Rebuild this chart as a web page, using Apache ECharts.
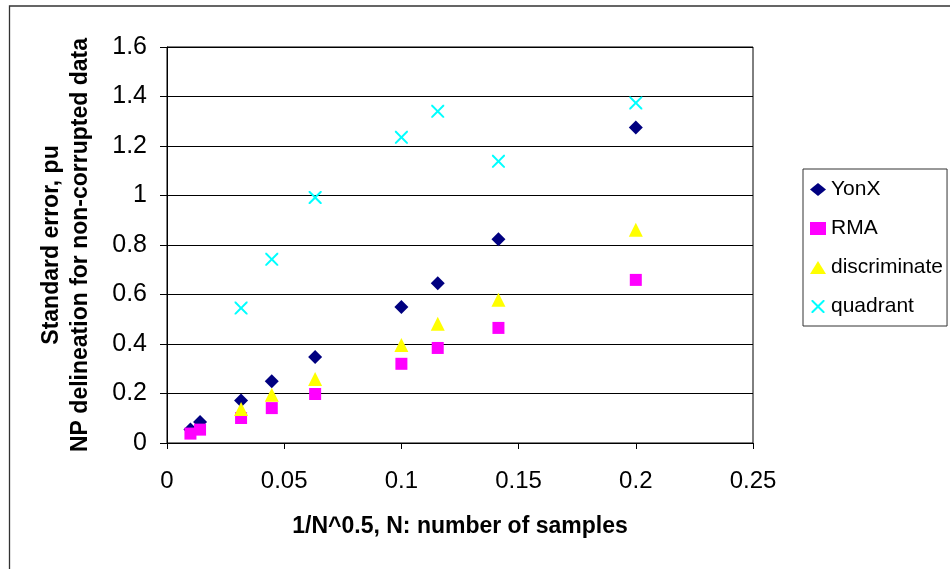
<!DOCTYPE html>
<html>
<head>
<meta charset="utf-8">
<script src="https://cdn.jsdelivr.net/npm/echarts@6/dist/echarts.min.js"></script>
<style>
html,body{margin:0;padding:0;background:#fff;}
#chart{width:950px;height:569px;}
</style>
</head>
<body>
<div id="chart"></div>
<script>
// ---- data ----
const xValues = [0.01, 0.0141, 0.0316, 0.0447, 0.0632, 0.1, 0.1155, 0.1414, 0.2];
const yonxValues = [0.055, 0.085, 0.172, 0.25, 0.347, 0.549, 0.645, 0.823, 1.275];
const rmaValues = [0.038, 0.054, 0.101, 0.141, 0.198, 0.32, 0.384, 0.465, 0.659];
const discriminateValues = [null, null, 0.137, 0.195, 0.259, 0.396, 0.482, 0.579, 0.862];
const quadrantValues = [null, null, 0.545, 0.742, 0.992, 1.235, 1.34, 1.138, 1.374];
const seriesNames = ['YonX', 'RMA', 'discriminate', 'quadrant'];
const xTickLabels = ['0', '0.05', '0.1', '0.15', '0.2', '0.25'];
const yTickLabels = ['0', '0.2', '0.4', '0.6', '0.8', '1', '1.2', '1.4', '1.6'];
const xTitle = '1/N^0.5, N: number of samples';
const yTitle = 'Standard error, pu\nNP delineation for non-corrupted data';

function pairs(ys) {
  const out = [];
  for (let i = 0; i < xValues.length; i++) {
    if (ys[i] !== null) out.push([xValues[i], ys[i]]);
  }
  return out;
}

const FONT = '"Liberation Sans", Arial, sans-serif';
const crossPath = 'path://M0,0 L2.2,0 L10,7.8 L17.8,0 L20,0 L20,2.2 L12.2,10 L20,17.8 L20,20 L17.8,20 L10,12.2 L2.2,20 L0,20 L0,17.8 L7.8,10 L0,2.2 Z';

const chart = echarts.init(document.getElementById('chart'), null, {renderer: 'canvas'});
chart.setOption({
  backgroundColor: '#fff',
  animation: false,
  graphic: [{
    type: 'rect',
    shape: {x: 9.5, y: 6, width: 980, height: 600},
    style: {fill: 'none', stroke: '#333', lineWidth: 1.3},
    z: -10, silent: true
  }],
  grid: {
    left: 167, top: 47, right: 197, bottom: 126,
    show: true, borderColor: '#000', borderWidth: 1,
    backgroundColor: '#fff',
    containLabel: false, outerBoundsMode: 'none'
  },
  legend: {
    orient: 'vertical',
    left: 803, top: 169,
    padding: [10, 4, 9, 7],
    borderColor: '#333', borderWidth: 1,
    itemWidth: 16, itemHeight: 13, itemGap: 18,
    textStyle: {fontFamily: FONT, fontSize: 21, lineHeight: 20, color: '#000'},
    data: seriesNames
  },
  xAxis: {
    type: 'value', min: 0, max: 0.25, interval: 0.05,
    name: xTitle, nameLocation: 'middle', nameGap: 72,
    nameTextStyle: {fontFamily: FONT, fontSize: 23, fontWeight: 'bold', color: '#000'},
    axisLine: {show: true, lineStyle: {color: '#000', width: 1}},
    axisTick: {show: true, inside: false, length: 6, lineStyle: {color: '#000'}},
    axisLabel: {
      margin: 26, fontFamily: FONT, fontSize: 24, color: '#000',
      formatter: (v, i) => xTickLabels[i]
    },
    splitLine: {show: false}
  },
  yAxis: {
    type: 'value', min: 0, max: 1.6, interval: 0.2,
    name: yTitle, nameLocation: 'middle', nameGap: 72, nameRotate: 90,
    nameTextStyle: {fontFamily: FONT, fontSize: 23, fontWeight: 'bold', color: '#000', lineHeight: 29, align: 'center'},
    axisLine: {show: true, lineStyle: {color: '#000', width: 1}},
    axisTick: {show: true, inside: false, length: 7, lineStyle: {color: '#000'}},
    axisLabel: {
      margin: 20, fontFamily: FONT, fontSize: 25, color: '#000',
      formatter: (v, i) => yTickLabels[i]
    },
    splitLine: {show: true, lineStyle: {color: '#000', width: 1}}
  },
  series: [
    {name: seriesNames[0], type: 'scatter', symbol: 'diamond', symbolSize: 14,
     itemStyle: {color: '#000080', opacity: 1}, data: pairs(yonxValues)},
    {name: seriesNames[1], type: 'scatter', symbol: 'rect', symbolSize: 12,
     itemStyle: {color: '#FF00FF', opacity: 1}, data: pairs(rmaValues)},
    {name: seriesNames[2], type: 'scatter', symbol: 'triangle', symbolSize: 14,
     itemStyle: {color: '#FFFF00', opacity: 1}, data: pairs(discriminateValues)},
    {name: seriesNames[3], type: 'scatter', symbol: crossPath, symbolSize: 13,
     itemStyle: {color: '#00FFFF', opacity: 1}, data: pairs(quadrantValues)}
  ]
});
</script>
</body>
</html>
